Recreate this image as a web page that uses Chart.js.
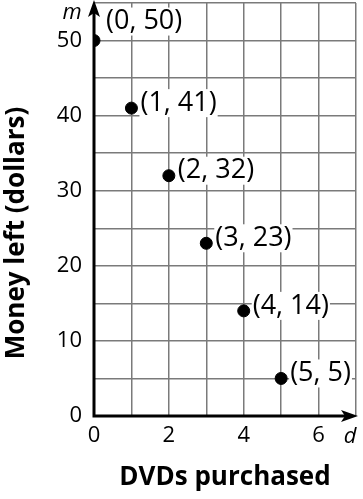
<!DOCTYPE html>
<html lang="en">

<head>
    <meta charset="UTF-8">
    <title>Money left vs DVDs purchased</title>
    <script src="https://cdn.jsdelivr.net/npm/chart.js"></script>
    <style>
        body { margin: 0; background: #fff; overflow: hidden; }
        #dvdChart { display: block; margin-top: -4px; }
    </style>
</head>

<body>
    <canvas id="dvdChart" width="363" height="503"></canvas>

    <script>
        // data
        const dvds = [0, 1, 2, 3, 4, 5];
        const money = [50, 41, 32, 23, 14, 5];
        const pointLabels = ['(0, 50)', '(1, 41)', '(2, 32)', '(3, 23)', '(4, 14)', '(5, 5)'];
        const xTickLabels = [0, 2, 4, 6];
        const yTickLabels = [0, 10, 20, 30, 40, 50];

        const FONT = '"Open Sans", "DejaVu Sans", sans-serif';
        const SHIFT = 4; // canvas is pulled up by this much

        // axes with arrows, point labels, axis titles
        const decorations = {
            id: 'decorations',
            afterDraw(chart) {
                const ctx = chart.ctx;
                const area = chart.chartArea;
                const xs = chart.scales.x, ys = chart.scales.y;
                const x0 = xs.getPixelForValue(0), y0 = ys.getPixelForValue(0);

                ctx.save();
                // axis lines
                ctx.strokeStyle = '#000';
                ctx.fillStyle = '#000';
                ctx.lineWidth = 3;
                ctx.beginPath();
                ctx.moveTo(x0, y0 + 1.5);
                ctx.lineTo(x0, SHIFT + 10);
                ctx.moveTo(x0 - 1.5, y0);
                ctx.lineTo(area.right - 8, y0);
                ctx.stroke();
                // arrowheads
                ctx.beginPath();
                ctx.moveTo(x0, SHIFT);
                ctx.lineTo(x0 - 6, SHIFT + 17);
                ctx.lineTo(x0, SHIFT + 13);
                ctx.lineTo(x0 + 6, SHIFT + 17);
                ctx.closePath();
                ctx.fill();
                const r = area.right + 2;
                ctx.beginPath();
                ctx.moveTo(r, y0);
                ctx.lineTo(r - 17, y0 - 6);
                ctx.lineTo(r - 13, y0);
                ctx.lineTo(r - 17, y0 + 6);
                ctx.closePath();
                ctx.fill();

                // point labels with white boxes
                ctx.font = '27px ' + FONT;
                ctx.textBaseline = 'middle';
                ctx.textAlign = 'left';
                dvds.forEach((d, i) => {
                    const px = xs.getPixelForValue(d) + 9;
                    const py = ys.getPixelForValue(money[i]) - (i === 0 ? 19 : 5);
                    const w = ctx.measureText(pointLabels[i]).width;
                    ctx.fillStyle = '#fff';
                    ctx.fillRect(px - 1, py - 14, w + 2, 28);
                    ctx.fillStyle = '#000';
                    ctx.fillText(pointLabels[i], px + (i === 0 ? 3 : 0), py);
                });

                // variable names
                ctx.font = 'italic 22px ' + FONT;
                ctx.textAlign = 'center';
                ctx.fillStyle = '#000';
                ctx.fillText('m', 72, SHIFT + 13);
                ctx.fillText('d', 350, SHIFT + 437);

                // axis titles
                ctx.font = 'bold 26px ' + FONT;
                ctx.fillText('DVDs purchased', 225, SHIFT + 478);
                ctx.translate(17, SHIFT + 233);
                ctx.rotate(-Math.PI / 2);
                ctx.fillText('Money left (dollars)', 0, 0);
                ctx.restore();
            }
        };

        const ctx = document.getElementById('dvdChart').getContext('2d');
        new Chart(ctx, {
            type: 'scatter',
            data: {
                datasets: [{
                    data: dvds.map((d, i) => ({ x: d, y: money[i] })),
                    backgroundColor: '#000',
                    borderColor: '#000',
                    pointRadius: 6,
                    pointHoverRadius: 6
                }]
            },
            options: {
                responsive: false,
                animation: false,
                layout: { padding: { top: 0, right: 6, left: 0, bottom: 0 } },
                plugins: { legend: { display: false }, tooltip: { enabled: false } },
                scales: {
                    x: {
                        type: 'linear',
                        min: 0,
                        max: 7,
                        afterFit: s => { s.height = 83; s.paddingLeft = 0; s.paddingRight = 0; },
                        border: { display: false },
                        grid: { color: '#7a7a7a', lineWidth: 1.5, drawTicks: false },
                        ticks: {
                            stepSize: 1,
                            padding: 7,
                            color: '#000',
                            font: { family: FONT, size: 22 },
                            maxRotation: 0,
                            callback: v => xTickLabels.includes(v) ? v : ''
                        }
                    },
                    y: {
                        min: 0,
                        max: 55,
                        afterFit: s => { s.width = 94; s.paddingTop = 0; s.paddingBottom = 0; },
                        border: { display: false },
                        grid: { color: '#7a7a7a', lineWidth: 1.5, drawTicks: false },
                        ticks: {
                            stepSize: 5,
                            padding: 12,
                            color: '#000',
                            font: { family: FONT, size: 22 },
                            callback: v => yTickLabels.includes(v) ? v : ''
                        }
                    }
                }
            },
            plugins: [decorations]
        });
    </script>
</body>

</html>
